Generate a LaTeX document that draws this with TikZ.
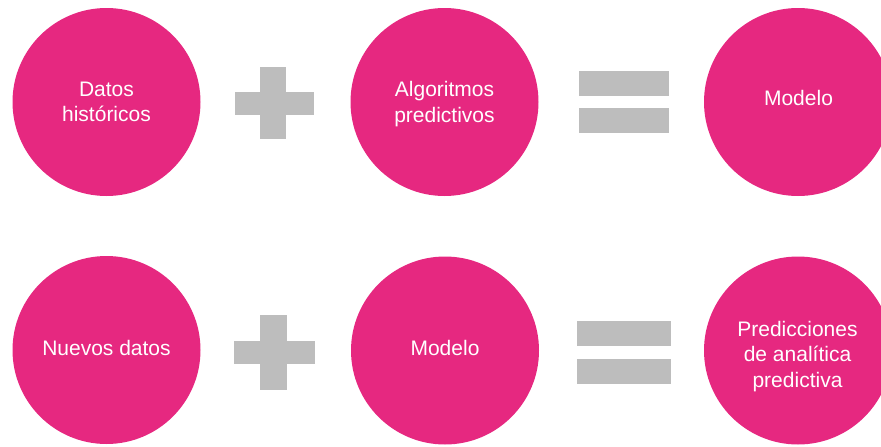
\documentclass[tikz,border=0pt]{standalone}
\usepackage{fontspec}
\setmainfont{Liberation Sans}
\definecolor{pinkc}{HTML}{E62880}
\definecolor{grayc}{HTML}{BDBDBD}
\begin{document}
\begin{tikzpicture}[x=1pt,y=-1pt,
  bubble/.style={circle,fill=pinkc,draw=none,minimum size=188pt,inner sep=0pt},
  label/.style={text=white,font=\fontsize{21}{25.5}\selectfont,align=center,inner sep=0pt},
  bar/.style={fill=grayc,draw=none}]
\useasboundingbox (0,0) rectangle (881,447);
\clip (0,0) rectangle (881,447);
% top row
\node[bubble] (c1) at (106.5,102) {};
\node[bubble] (c2) at (444.5,102) {};
\node[bubble] (c3) at (798,102) {};
\node[label] (t1) at (106.5,102) {Datos\\históricos};
\node[label] (t2) at (444.5,104) {Algoritmos\\predictivos};
\node[label,anchor=base] (t3) at (798.5,105) {Modelo};
% plus top
\fill[bar] (260,67) rectangle (286,139);
\fill[bar] (235,92) rectangle (314,115);
% equals top
\fill[bar] (579,71) rectangle (669,96);
\fill[bar] (579,108) rectangle (669,133);
% bottom row
\node[bubble] (d1) at (106.5,350) {};
\node[bubble] (d2) at (445,350.5) {};
\node[bubble] (d3) at (798,350.5) {};
\node[label,anchor=base] (u1) at (106.5,355) {Nuevos datos};
\node[label,anchor=base] (u2) at (445,355) {Modelo};
\node[label] (u3) at (797.5,356.5) {Predicciones\\de analítica\\predictiva};
% plus bottom
\fill[bar] (260,315) rectangle (287,390);
\fill[bar] (234,341) rectangle (315,364);
% equals bottom
\fill[bar] (577,321) rectangle (671,346);
\fill[bar] (577,359) rectangle (671,384);
\end{tikzpicture}
\end{document}
